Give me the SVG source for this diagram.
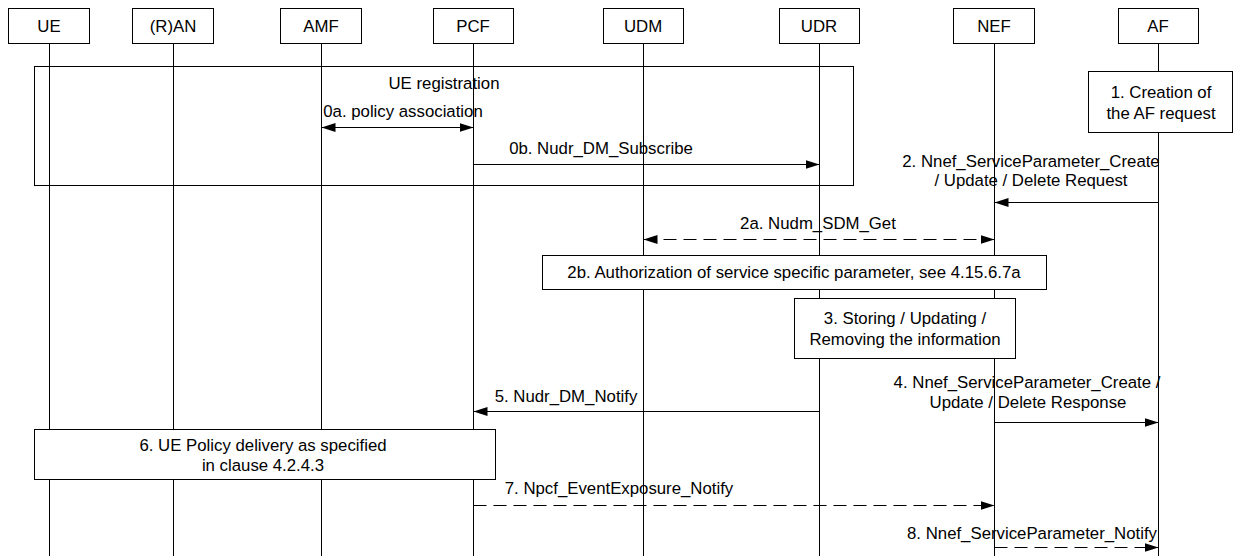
<svg xmlns="http://www.w3.org/2000/svg" width="1233" height="556" viewBox="0 0 1233 556">
<defs>
<style>
text{font-family:"Liberation Sans",Arial,sans-serif;font-size:16.8px;fill:#000;text-anchor:middle;dominant-baseline:central}
.box{fill:#fff;stroke:#000;stroke-width:1}
.frame{fill:none;stroke:#000;stroke-width:1}
.life{stroke:#000;stroke-width:1;fill:none}
.msg{stroke:#000;stroke-width:1;fill:none}
.dash{stroke-dasharray:13 7}
</style>
<marker id="ah" markerUnits="userSpaceOnUse" markerWidth="15" markerHeight="10" refX="14" refY="5" orient="auto-start-reverse" viewBox="0 0 15 10">
<path d="M0,0.5 L14,5 L0,9.5 z" fill="#000"/>
</marker>
</defs>
<rect width="1233" height="556" fill="#fff"/>

<g id="lifelines">
<line class="life" x1="49.5" y1="43" x2="49.5" y2="556"/>
<line class="life" x1="173.5" y1="43" x2="173.5" y2="556"/>
<line class="life" x1="321.5" y1="43" x2="321.5" y2="556"/>
<line class="life" x1="473.5" y1="43" x2="473.5" y2="556"/>
<line class="life" x1="643.5" y1="43" x2="643.5" y2="556"/>
<line class="life" x1="819.5" y1="43" x2="819.5" y2="556"/>
<line class="life" x1="994.5" y1="43" x2="994.5" y2="556"/>
<line class="life" x1="1158.5" y1="43" x2="1158.5" y2="556"/>
</g>

<g id="ue-registration">
<rect class="frame" x="34.5" y="66.5" width="819" height="119"/>
<text x="444" y="83">UE registration</text>
</g>

<g id="node-UE"><rect class="box" x="8.5" y="8.5" width="81" height="35"/><text x="49" y="26">UE</text></g>
<g id="node-RAN"><rect class="box" x="132.5" y="8.5" width="81" height="35"/><text x="173" y="26">(R)AN</text></g>
<g id="node-AMF"><rect class="box" x="280.5" y="8.5" width="81" height="35"/><text x="321" y="26">AMF</text></g>
<g id="node-PCF"><rect class="box" x="433.5" y="8.5" width="80" height="35"/><text x="473" y="26">PCF</text></g>
<g id="node-UDM"><rect class="box" x="603.5" y="8.5" width="80" height="35"/><text x="643" y="26">UDM</text></g>
<g id="node-UDR"><rect class="box" x="779.5" y="8.5" width="80" height="35"/><text x="819" y="26">UDR</text></g>
<g id="node-NEF"><rect class="box" x="953.5" y="8.5" width="81" height="35"/><text x="994" y="26">NEF</text></g>
<g id="node-AF"><rect class="box" x="1118.5" y="8.5" width="80" height="35"/><text x="1158" y="26">AF</text></g>

<g id="step1">
<rect class="box" x="1088.5" y="71.5" width="144" height="61"/>
<text x="1161" y="92">1. Creation of</text>
<text x="1161" y="113">the AF request</text>
</g>

<g id="step2b">
<rect class="box" x="542.5" y="255.5" width="504" height="34"/>
<text x="794" y="272">2b. Authorization of service specific parameter, see 4.15.6.7a</text>
</g>

<g id="step3">
<rect class="box" x="794.5" y="298.5" width="221" height="60"/>
<text x="905" y="318">3. Storing / Updating /</text>
<text x="905" y="339">Removing the information</text>
</g>

<g id="step6">
<rect class="box" x="34.5" y="429.5" width="461" height="50"/>
<text x="263" y="445">6. UE Policy delivery as specified</text>
<text x="263" y="465">in clause 4.2.4.3</text>
</g>

<g id="connectors">
<line class="msg" x1="321.5" y1="127.5" x2="473.5" y2="127.5" marker-start="url(#ah)" marker-end="url(#ah)"/>
<text x="403" y="111">0a. policy association</text>

<line class="msg" x1="473.5" y1="164.5" x2="819.5" y2="164.5" marker-end="url(#ah)"/>
<text x="601" y="148">0b. Nudr_DM_Subscribe</text>

<line class="msg" x1="1158.5" y1="202.5" x2="994.5" y2="202.5" marker-end="url(#ah)"/>
<text x="1031" y="161">2. Nnef_ServiceParameter_Create</text>
<text x="1031" y="180">/ Update / Delete Request</text>

<line class="msg dash" x1="643.5" y1="239.5" x2="994.5" y2="239.5" marker-start="url(#ah)" marker-end="url(#ah)"/>
<text x="818" y="223">2a. Nudm_SDM_Get</text>

<line class="msg" x1="994.5" y1="422.5" x2="1158.5" y2="422.5" marker-end="url(#ah)"/>
<text x="1027" y="382">4. Nnef_ServiceParameter_Create /</text>
<text x="1028" y="402">Update / Delete Response</text>

<line class="msg" x1="819.5" y1="411.5" x2="473.5" y2="411.5" marker-end="url(#ah)"/>
<text x="566" y="396">5. Nudr_DM_Notify</text>

<line class="msg dash" x1="473.5" y1="505.5" x2="994.5" y2="505.5" marker-end="url(#ah)"/>
<text x="619" y="488">7. Npcf_EventExposure_Notify</text>

<line class="msg dash" x1="994.5" y1="547.5" x2="1158.5" y2="547.5" marker-end="url(#ah)"/>
<text x="1032" y="533">8. Nnef_ServiceParameter_Notify</text>
</g>
</svg>
